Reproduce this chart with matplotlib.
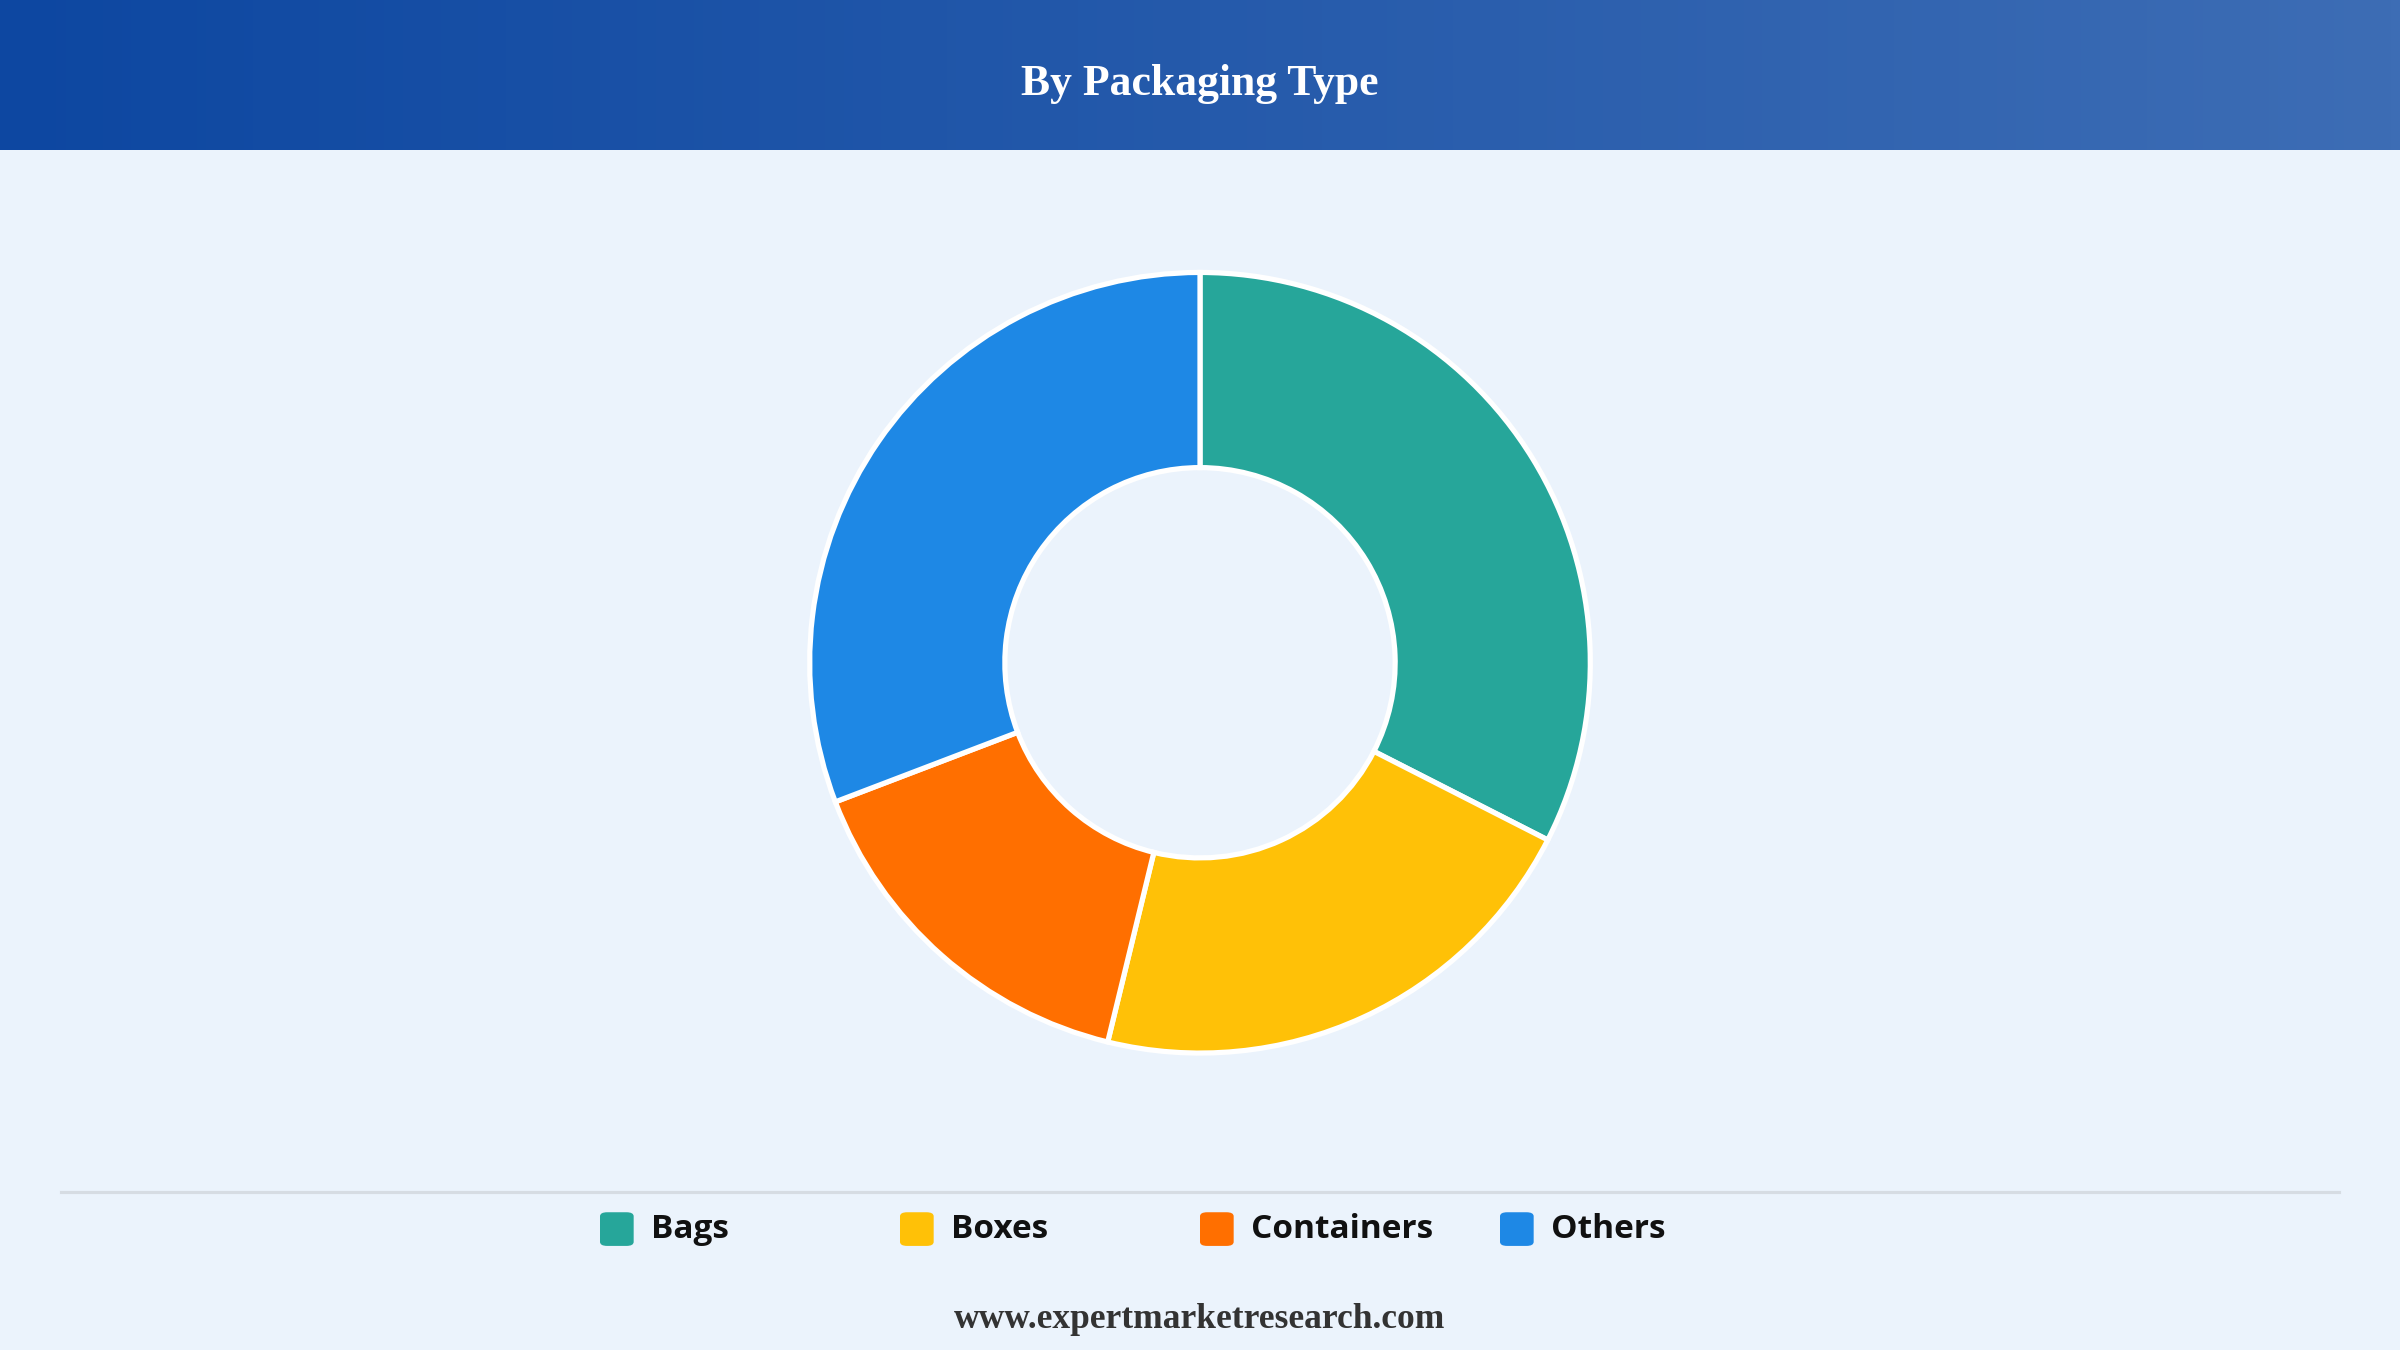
import matplotlib.pyplot as plt
import numpy as np
from matplotlib.patches import FancyBboxPatch
from matplotlib.colors import LinearSegmentedColormap

labels = ['Bags', 'Boxes', 'Containers', 'Others']
values = [32.5, 21.3, 15.4, 30.8]
colors = ['#26A69A', '#FFC107', '#FF6F00', '#1E88E5']

fig = plt.figure(figsize=(16, 9), dpi=150)
fig.patch.set_facecolor('#EBF3FC')

# header band with gradient
hdr = fig.add_axes([0, 1 - 98 / 882, 1, 98 / 882])
grad = np.linspace(0, 1, 256).reshape(1, -1)
cmap = LinearSegmentedColormap.from_list('hdr', ['#0D47A1', '#3D6DB5'])
hdr.imshow(grad, aspect='auto', cmap=cmap, extent=[0, 1, 0, 1])
hdr.set_axis_off()
hdr.text(0.5, 0.44, 'By Packaging Type', color='white', fontsize=21,
         fontweight='bold', family='Liberation Serif', ha='center', va='center')

# donut
r_h = 2 * 255 / 882
w = r_h * 882 / 1568
ax = fig.add_axes([0.5 - w / 2, 1 - 433 / 882 - r_h / 2, w, r_h])
ax.pie(values, colors=colors, startangle=90, counterclock=False, radius=1,
       wedgeprops=dict(width=0.5, edgecolor='white', linewidth=2.5))
ax.set_xlim(-1.0, 1.0)
ax.set_ylim(-1.0, 1.0)
ax.set_aspect('equal')

# separator line
fig.add_artist(plt.Line2D([40 / 1568, 1528 / 1568], [1 - 779 / 882] * 2,
                          color='#D6DCE3', linewidth=1.5))

# legend
ly = 1 - 803 / 882
for i, (lab, c) in enumerate(zip(labels, colors)):
    x = (392 + 196 * i) / 1568
    fig.add_artist(FancyBboxPatch((x, ly - 11 / 882), 22 / 1568, 22 / 882,
                                  boxstyle='round,pad=0,rounding_size=0.003',
                                  facecolor=c, edgecolor='none',
                                  transform=fig.transFigure))
    fig.text(x + 33 / 1568, ly, lab, fontsize=16, fontweight='bold',
             family='Open Sans', color='#111111', va='center', ha='left')

fig.text(0.5, 1 - 862 / 882, 'www.expertmarketresearch.com', fontsize=17,
         fontweight='bold', family='Liberation Serif', color='#333333',
         ha='center', va='center')

fig.savefig('out.png', dpi=150, facecolor=fig.get_facecolor())
